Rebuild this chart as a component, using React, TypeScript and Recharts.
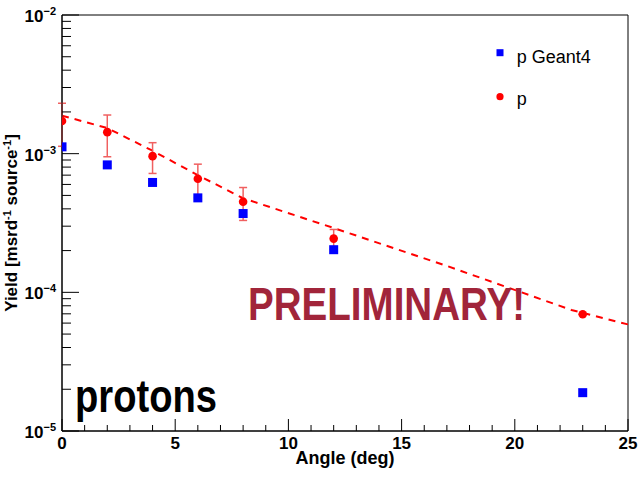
import React from 'react'
import {
  ComposedChart,
  Scatter,
  Line,
  XAxis,
  YAxis,
  ErrorBar,
  ReferenceArea,
} from 'recharts'

// angles (deg) where yields were measured
const ANGLES = [0, 2, 4, 6, 8, 12, 23]
// p Geant4 simulation
const GEANT4_YIELD = [1.12e-3, 8.3e-4, 6.2e-4, 4.8e-4, 3.7e-4, 2.03e-4, 1.89e-5]
// p measured + asymmetric errors
const P_YIELD = [1.72e-3, 1.43e-3, 9.6e-4, 6.6e-4, 4.5e-4, 2.44e-4, 6.95e-5]
const P_ERR_LOW = [5.9e-4, 4.8e-4, 2.4e-4, 1.8e-4, 1.2e-4, 4.0e-5, 0]
const P_ERR_HIGH = [5.9e-4, 4.7e-4, 2.4e-4, 1.8e-4, 1.2e-4, 4.0e-5, 0]
// dashed fit curve
const FIT_ANGLES = [0, 2, 4, 6, 8, 12, 17, 22.5, 25]
const FIT_YIELD = [1.88e-3, 1.53e-3, 1.05e-3, 7.0e-4, 4.77e-4, 2.91e-4, 1.55e-4, 7.46e-5, 5.87e-5]

// axis ticks
const X_TICKS = [0, 1, 2, 3, 4, 5, 6, 7, 8, 9, 10, 11, 12, 13, 14, 15, 16, 17, 18, 19, 20, 21, 22, 23, 24, 25]
const X_LABELS = [0, 5, 10, 15, 20, 25]
const DECADES = [1e-5, 1e-4, 1e-3]
const MANTISSAS = [1, 2, 3, 4, 5, 6, 7, 8, 9]
const Y_EXPONENTS = [-5, -4, -3, -2]

const Y_TICKS = [...DECADES.flatMap((d) => MANTISSAS.map((m) => +(m * d).toPrecision(3))), 1e-2]

const geant4Data = ANGLES.map((x, i) => ({ x, y: GEANT4_YIELD[i] }))
const pData = ANGLES.map((x, i) => ({ x, y: P_YIELD[i], err: [P_ERR_LOW[i], P_ERR_HIGH[i]] }))
const fitData = FIT_ANGLES.map((x, i) => ({ x, y: FIT_YIELD[i] }))

const FONT = '"Liberation Sans", Arial, Helvetica, sans-serif'
const NARROW = '"Liberation Sans Narrow", "Liberation Sans", Arial, sans-serif'

const XTick = ({ x, y, payload }: any) => {
  const major = X_LABELS.includes(payload.value)
  return (
    <g>
      <line x1={x} x2={x} y1={y} y2={y - (major ? 12 : 6)} stroke="#000" strokeWidth={1} />
      {major && (
        <text x={x} y={y + 18} textAnchor="middle" fontFamily={FONT} fontWeight="bold" fontSize={17} fill="#000">
          {payload.value}
        </text>
      )}
    </g>
  )
}

const YTick = ({ x, y, payload }: any) => {
  const exp = Math.round(Math.log10(payload.value))
  const major = Math.abs(Math.log10(payload.value) - exp) < 1e-6 && Y_EXPONENTS.includes(exp)
  return (
    <g>
      <line x1={x} x2={x + (major ? 17 : 9)} y1={y} y2={y} stroke="#000" strokeWidth={1} />
      {major && (
        <text x={x - 6} y={y + 7} textAnchor="end" fontFamily={FONT} fontWeight="bold" fontSize={17} fill="#000">
          10
          <tspan fontSize={11} dy={-7}>{'−' + Math.abs(exp)}</tspan>
        </text>
      )}
    </g>
  )
}

const XTitle = ({ viewBox }: any) => (
  <text
    x={viewBox.x + viewBox.width / 2}
    y={viewBox.y + 33}
    textAnchor="middle"
    fontFamily={FONT}
    fontWeight="bold"
    fontSize={18}
    fill="#000"
  >
    Angle (deg)
  </text>
)

const YTitle = ({ viewBox }: any) => {
  const cx = 17
  const cy = viewBox.y + viewBox.height / 2
  return (
    <text
      x={cx}
      y={cy}
      transform={`rotate(-90 ${cx} ${cy})`}
      textAnchor="middle"
      fontFamily={FONT}
      fontWeight="bold"
      fontSize={17}
      fill="#000"
    >
      Yield [msrd
      <tspan fontSize={11} dy={-6}>-1</tspan>
      <tspan dy={6}> source</tspan>
      <tspan fontSize={11} dy={-6}>-1</tspan>
      <tspan dy={6}>]</tspan>
    </text>
  )
}

const Square = ({ cx, cy }: any) => <rect x={cx - 4.5} y={cy - 4.5} width={9} height={9} fill="#0000ff" />
const Dot = ({ cx, cy }: any) => <circle cx={cx} cy={cy} r={4.3} fill="#ff0000" />

export default function App() {
  return (
    <div style={{ position: 'absolute', left: 0, top: 0, width: 640, height: 483, background: '#fff' }}>
      <ComposedChart width={640} height={483} margin={{ top: 15, right: 12, bottom: 0, left: 0 }}>
        <XAxis
          type="number"
          dataKey="x"
          domain={[0, 25]}
          ticks={X_TICKS}
          interval={0}
          allowDataOverflow
          height={52}
          tickSize={0}
          tickMargin={0}
          tick={<XTick />}
          stroke="#000"
          label={{ content: <XTitle /> }}
        />
        <YAxis
          type="number"
          dataKey="y"
          scale="log"
          domain={[1e-5, 1e-2]}
          ticks={Y_TICKS}
          interval={0}
          allowDataOverflow
          width={62}
          tickSize={0}
          tickMargin={0}
          tick={<YTick />}
          stroke="#000"
          label={{ content: <YTitle /> }}
        />
        <ReferenceArea x1={0} x2={25} y1={1e-5} y2={1e-2} fill="none" stroke="#000" strokeWidth={1} />
        <Line
          data={fitData}
          dataKey="y"
          type="linear"
          stroke="#ff0000"
          strokeWidth={2}
          strokeDasharray="7 6"
          dot={false}
          activeDot={false}
          isAnimationActive={false}
        />
        <Scatter data={geant4Data} dataKey="y" shape={<Square />} isAnimationActive={false} name="p Geant4" />
        <Scatter data={pData} dataKey="y" shape={<Dot />} isAnimationActive={false} name="p">
          <ErrorBar dataKey="err" direction="y" width={4} stroke="#f06060" strokeWidth={1.5} />
        </Scatter>
      </ComposedChart>
      <svg width={640} height={483} style={{ position: 'absolute', left: 0, top: 0, pointerEvents: 'none' }}>
        {/* legend */}
        <rect x={496.5} y={49.2} width={7} height={7} fill="#0000ff" />
        <text x={516.7} y={63.3} fontFamily={FONT} fontSize={18} fill="#000">p Geant4</text>
        <circle cx={500} cy={96.7} r={3.6} fill="#ff0000" />
        <text x={516.7} y={105} fontFamily={FONT} fontSize={18} fill="#000">p</text>
        {/* annotations */}
        <text x={248} y={320} fontFamily={NARROW} fontWeight="bold" fontSize={46} fill="#a1253a" textLength={277} lengthAdjust="spacingAndGlyphs">
          PRELIMINARY!
        </text>
        <text x={75} y={411.7} fontFamily={NARROW} fontWeight="bold" fontSize={47} fill="#000" textLength={142} lengthAdjust="spacingAndGlyphs">
          protons
        </text>
      </svg>
    </div>
  )
}
